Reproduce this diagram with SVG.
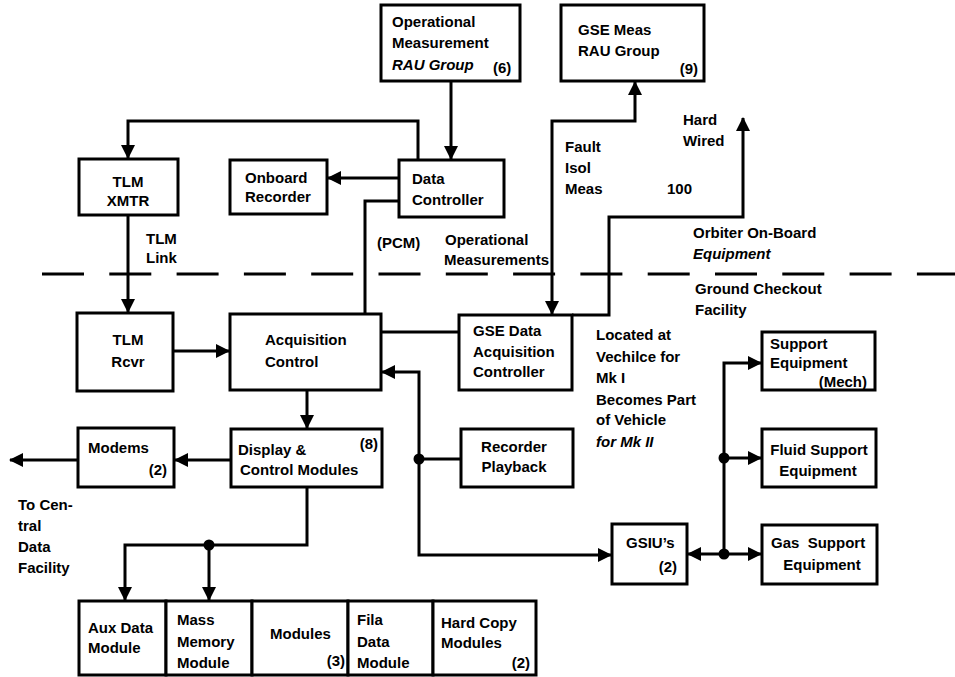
<svg xmlns="http://www.w3.org/2000/svg" width="955" height="677" viewBox="0 0 955 677">
<style>
.box{fill:#fff;stroke:#000;stroke-width:3}
.ln{fill:none;stroke:#000;stroke-width:3}
.dash{fill:none;stroke:#000;stroke-width:3;stroke-dasharray:42 25.3}
text{font-family:"Liberation Sans",Arial,sans-serif;font-weight:bold;font-size:15px;fill:#000}
.m{text-anchor:middle}
.e{text-anchor:end}
.i{font-style:italic}
</style>
<defs>
<marker id="ah" viewBox="0 0 14 14" markerWidth="14" markerHeight="14" refX="13" refY="7" orient="auto-start-reverse" markerUnits="userSpaceOnUse">
<path d="M0,0 L14,7 L0,14 z" fill="#000"/>
</marker>
</defs>
<rect width="955" height="677" fill="#fff"/>

<g id="boundary">
<line class="dash" x1="42" y1="274" x2="955" y2="274"/>
</g>

<g id="connectors">
<path class="ln" d="M451,81 V159" marker-end="url(#ah)"/>
<path class="ln" d="M418,160 V121 H128 V158" marker-end="url(#ah)"/>
<path class="ln" d="M399,178 H328" marker-end="url(#ah)"/>
<path class="ln" d="M399,201 H365 V314"/>
<path class="ln" d="M128,215 V312" marker-end="url(#ah)"/>
<path class="ln" d="M173,351 H229" marker-end="url(#ah)"/>
<path class="ln" d="M381,332 H459"/>
<path class="ln" d="M552,314 V121 H635 V82" marker-start="url(#ah)" marker-end="url(#ah)"/>
<path class="ln" d="M572,315 H609 V217 H743 V118" marker-end="url(#ah)"/>
<path class="ln" d="M307,390 V428" marker-end="url(#ah)"/>
<path class="ln" d="M231,460 H175" marker-end="url(#ah)"/>
<path class="ln" d="M78,460 H10" marker-end="url(#ah)"/>
<path class="ln" d="M461,459 H419"/>
<path class="ln" d="M419,459 V372 H382" marker-end="url(#ah)"/>
<path class="ln" d="M419,459 V555 H611" marker-end="url(#ah)"/>
<path class="ln" d="M724,554 H688" marker-end="url(#ah)"/>
<path class="ln" d="M724,554 H761" marker-end="url(#ah)"/>
<path class="ln" d="M724,554 V363 H761" marker-end="url(#ah)"/>
<path class="ln" d="M724,458 H761" marker-end="url(#ah)"/>
<path class="ln" d="M307,487 V545 H125 V600" marker-end="url(#ah)"/>
<path class="ln" d="M209,545 V600" marker-end="url(#ah)"/>
<circle cx="419" cy="459" r="5.5"/>
<circle cx="724" cy="554" r="5.5"/>
<circle cx="724" cy="458" r="5.5"/>
<circle cx="209" cy="545" r="5.5"/>
</g>

<g id="opmeas">
<rect class="box" x="381" y="5" width="139" height="76"/>
<text x="392" y="27">Operational</text>
<text x="392" y="48">Measurement</text>
<text x="392" y="70" class="i">RAU Group</text>
<text x="493" y="73">(6)</text>
</g>

<g id="gsemeas">
<rect class="box" x="561" y="5" width="143" height="76"/>
<text x="578" y="35">GSE Meas</text>
<text x="578" y="56">RAU Group</text>
<text x="698" y="74" class="e">(9)</text>
</g>

<g id="tlmxmtr">
<rect class="box" x="79" y="159" width="99" height="56"/>
<text x="128" y="187" class="m">TLM</text>
<text x="128" y="206" class="m">XMTR</text>
</g>

<g id="onboard">
<rect class="box" x="230" y="160" width="97" height="54"/>
<text x="245" y="183">Onboard</text>
<text x="245" y="202">Recorder</text>
</g>

<g id="datactrl">
<rect class="box" x="399" y="160" width="105" height="57"/>
<text x="412" y="184">Data</text>
<text x="412" y="205">Controller</text>
</g>

<g id="labels">
<text x="146" y="244">TLM</text>
<text x="146" y="263">Link</text>
<text x="377" y="248">(PCM)</text>
<text x="445" y="245">Operational</text>
<text x="444" y="265">Measurements</text>
<text x="565" y="152">Fault</text>
<text x="565" y="173">Isol</text>
<text x="565" y="194">Meas</text>
<text x="683" y="125">Hard</text>
<text x="683" y="146">Wired</text>
<text x="667" y="194">100</text>
<text x="693" y="238">Orbiter On-Board</text>
<text x="693" y="259" class="i">Equipment</text>
<text x="695" y="294">Ground Checkout</text>
<text x="695" y="315">Facility</text>
<text x="596" y="340">Located at</text>
<text x="596" y="362">Vechilce for</text>
<text x="596" y="383">Mk I</text>
<text x="596" y="405">Becomes Part</text>
<text x="596" y="425">of Vehicle</text>
<text x="596" y="447" class="i">for Mk II</text>
<text x="18" y="510">To Cen-</text>
<text x="18" y="531">tral</text>
<text x="18" y="552">Data</text>
<text x="18" y="573">Facility</text>
</g>

<g id="tlmrcvr">
<rect class="box" x="77" y="313" width="96" height="78"/>
<text x="128" y="345" class="m">TLM</text>
<text x="128" y="367" class="m">Rcvr</text>
</g>

<g id="acqctrl">
<rect class="box" x="230" y="314" width="151" height="76"/>
<text x="265" y="345">Acquisition</text>
<text x="265" y="367">Control</text>
</g>

<g id="gsedata">
<rect class="box" x="459" y="315" width="113" height="75"/>
<text x="473" y="336">GSE Data</text>
<text x="473" y="357">Acquisition</text>
<text x="473" y="377">Controller</text>
</g>

<g id="supportmech">
<rect class="box" x="762" y="332" width="113" height="58"/>
<text x="770" y="349">Support</text>
<text x="770" y="368">Equipment</text>
<text x="867" y="387" class="e">(Mech)</text>
</g>

<g id="modems">
<rect class="box" x="78" y="428" width="96" height="59"/>
<text x="88" y="453">Modems</text>
<text x="167" y="475" class="e">(2)</text>
</g>

<g id="display">
<rect class="box" x="231" y="429" width="151" height="58"/>
<text x="238" y="455">Display &amp;</text>
<text x="378" y="449" class="e">(8)</text>
<text x="240" y="475">Control Modules</text>
</g>

<g id="recorder">
<rect class="box" x="461" y="429" width="112" height="58"/>
<text x="514" y="452" class="m">Recorder</text>
<text x="514" y="472" class="m">Playback</text>
</g>

<g id="fluid">
<rect class="box" x="762" y="429" width="114" height="58"/>
<text x="819" y="455" class="m">Fluid Support</text>
<text x="818" y="476" class="m">Equipment</text>
</g>

<g id="gsiu">
<rect class="box" x="612" y="524" width="75" height="60"/>
<text x="626" y="548">GSIU’s</text>
<text x="677" y="572" class="e">(2)</text>
</g>

<g id="gas">
<rect class="box" x="762" y="525" width="115" height="59"/>
<text x="771" y="548" xml:space="preserve">Gas  Support</text>
<text x="822" y="570" class="m">Equipment</text>
</g>

<g id="auxdata">
<rect class="box" x="79" y="601" width="87" height="74"/>
<text x="88" y="633">Aux Data</text>
<text x="88" y="653">Module</text>
</g>

<g id="massmem">
<rect class="box" x="166" y="601" width="86" height="74"/>
<text x="177" y="625">Mass</text>
<text x="177" y="647">Memory</text>
<text x="177" y="668">Module</text>
</g>

<g id="modules3">
<rect class="box" x="252" y="601" width="96" height="74"/>
<text x="270" y="639">Modules</text>
<text x="345" y="666" class="e">(3)</text>
</g>

<g id="filedata">
<rect class="box" x="348" y="601" width="85" height="74"/>
<text x="357" y="625">Fila</text>
<text x="357" y="647">Data</text>
<text x="357" y="668">Module</text>
</g>

<g id="hardcopy">
<rect class="box" x="433" y="601" width="103" height="74"/>
<text x="441" y="628">Hard Copy</text>
<text x="441" y="648">Modules</text>
<text x="530" y="668" class="e">(2)</text>
</g>
</svg>
